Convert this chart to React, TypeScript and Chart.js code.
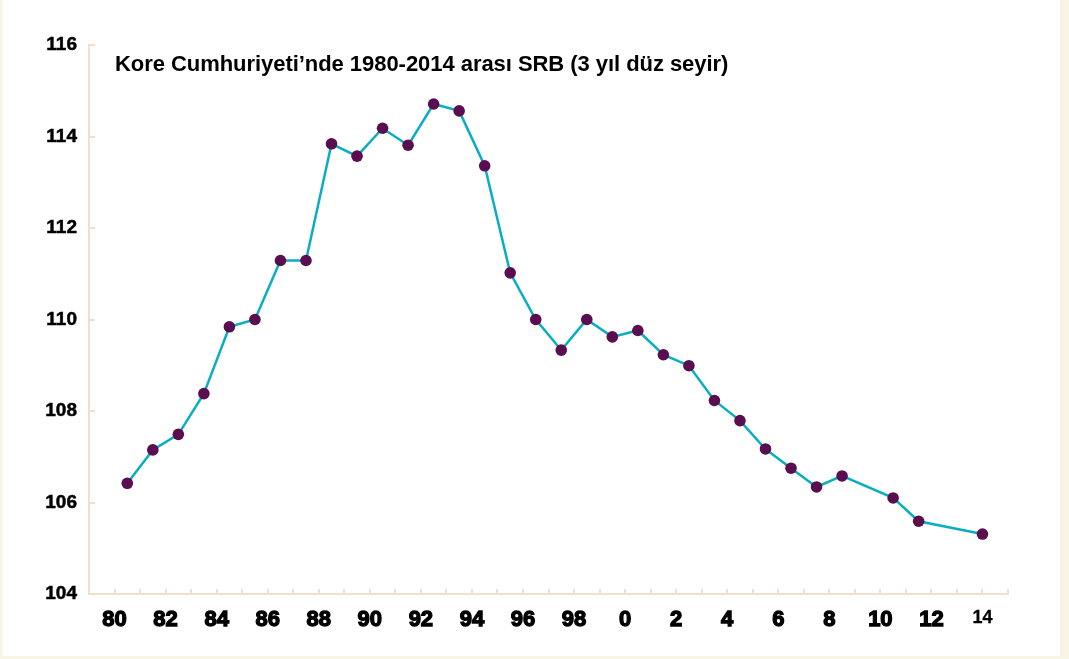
import React, { useEffect, useRef } from "react";
import { Chart, registerables } from "chart.js";

Chart.register(...registerables);

const TITLE = "Kore Cumhuriyeti’nde 1980-2014 arası SRB (3 yıl düz seyir)";

// plotting position of each 3-year smoothed value (axis units: years)
const xPositions = [
  1980.5, 1981.5, 1982.5, 1983.5, 1984.5, 1985.5, 1986.5, 1987.5, 1988.5, 1989.5,
  1990.5, 1991.5, 1992.5, 1993.5, 1994.5, 1995.5, 1996.5, 1997.5, 1998.5, 1999.5,
  2000.5, 2001.5, 2002.5, 2003.5, 2004.5, 2005.5, 2006.5, 2007.5, 2008.5, 2010.5,
  2011.5, 2014,
];

// sex ratio at birth (boys per 100 girls)
const srbValues = [
  106.42, 107.15, 107.49, 108.38, 109.84, 110.0, 111.29, 111.29, 113.84, 113.57,
  114.18, 113.81, 114.71, 114.56, 113.36, 111.02, 110.0, 109.33, 110.0, 109.62,
  109.76, 109.23, 108.99, 108.23, 107.79, 107.17, 106.75, 106.34, 106.58, 106.1,
  105.59, 105.31,
];

const xLabelYears = [
  1980, 1982, 1984, 1986, 1988, 1990, 1992, 1994, 1996, 1998, 2000, 2002, 2004,
  2006, 2008, 2010, 2012, 2014,
];
const smallLabelYears = [2014];

const yMin = 104;
const yMax = 116;
const yStep = 2;
const xMin = 1979;
const xMax = 2015;

const AXIS_COLOR = "#F1DFCB";
const LINE_COLOR = "#0AAEC3";
const POINT_COLOR = "#5A0E50";
const FONT = "'Liberation Sans', Arial, Helvetica, sans-serif";

const innerTicks = {
  id: "innerTicks",
  beforeDatasetsDraw(chart: any) {
    const { ctx, chartArea, scales } = chart;
    const x = scales.x;
    const y = scales.y;
    ctx.save();
    ctx.strokeStyle = AXIS_COLOR;
    ctx.lineWidth = 2;
    ctx.beginPath();
    x.ticks.forEach((t: any) => {
      if (t.value === x.min) return;
      const px = Math.round(x.getPixelForValue(t.value));
      ctx.moveTo(px, chartArea.bottom);
      ctx.lineTo(px, chartArea.bottom - 5);
    });
    y.ticks.forEach((t: any) => {
      if (t.value === y.min) return;
      const py = Math.round(y.getPixelForValue(t.value));
      ctx.moveTo(chartArea.left, py);
      ctx.lineTo(chartArea.left + 6, py);
    });
    ctx.stroke();
    ctx.restore();
  },
};

export default function App() {
  const canvasRef = useRef<HTMLCanvasElement | null>(null);

  useEffect(() => {
    if (!canvasRef.current) return;
    const data = xPositions.map((x, i) => ({ x, y: srbValues[i] }));
    const chart = new Chart(canvasRef.current, {
      type: "line",
      data: {
        datasets: [
          {
            data,
            borderColor: LINE_COLOR,
            borderWidth: 2.5,
            pointBackgroundColor: POINT_COLOR,
            pointBorderColor: POINT_COLOR,
            pointBorderWidth: 0,
            pointRadius: 5.8,
            tension: 0,
          },
        ],
      },
      options: {
        animation: false,
        responsive: false,
        devicePixelRatio: 1,
        layout: { padding: { left: 0, top: 45, right: 61, bottom: 0 } },
        plugins: {
          legend: { display: false },
          tooltip: { enabled: false },
          title: { display: false },
        },
        scales: {
          x: {
            type: "linear",
            min: xMin,
            max: xMax,
            grid: { display: false, drawTicks: false },
            border: { display: true, color: AXIS_COLOR, width: 2 },
            afterFit: (scale: any) => {
              scale.height = 65;
            },
            ticks: {
              stepSize: 1,
              autoSkip: false,
              maxRotation: 0,
              minRotation: 0,
              padding: 13,
              color: "#000",
              font: (ctx: any) => {
                const v = ctx.tick ? ctx.tick.value : 0;
                return smallLabelYears.includes(v)
                  ? { family: FONT, size: 18, weight: "bold" }
                  : { family: FONT, size: 22, weight: "bold" };
              },
              textStrokeColor: "#000",
              textStrokeWidth: (ctx: any) => {
                const v = ctx.tick ? ctx.tick.value : 0;
                return smallLabelYears.includes(v) ? 0.3 : 1.3;
              },
              callback: (value: any) => {
                const v = Number(value);
                return xLabelYears.includes(v) ? String(v % 100) : "";
              },
            },
          },
          y: {
            type: "linear",
            min: yMin,
            max: yMax,
            grid: { display: false, drawTicks: false },
            border: { display: true, color: AXIS_COLOR, width: 2 },
            afterFit: (scale: any) => {
              scale.width = 89;
            },
            ticks: {
              stepSize: yStep,
              padding: 12,
              color: "#000",
              font: { family: FONT, size: 19, weight: "bold" },
              textStrokeColor: "#000",
              textStrokeWidth: 0.5,
            },
          },
        },
      },
      plugins: [innerTicks],
    });
    return () => chart.destroy();
  }, []);

  return (
    <div
      style={{
        position: "fixed",
        left: 0,
        top: 0,
        width: 1069,
        height: 659,
        background: "#F8F4E6",
        overflow: "hidden",
      }}
    >
      <div
        style={{
          position: "absolute",
          left: 3,
          top: 0,
          width: 1057,
          height: 656,
          background: "#FFFFFF",
        }}
      />
      <canvas
        ref={canvasRef}
        width={1069}
        height={659}
        style={{ position: "absolute", left: 0, top: 0, width: 1069, height: 659 }}
      />
      <div
        style={{
          position: "absolute",
          left: 115,
          top: 53,
          fontFamily: FONT,
          fontWeight: "bold",
          fontSize: 22,
          letterSpacing: "-0.05px",
          lineHeight: "22px",
          color: "#000",
          whiteSpace: "nowrap",
        }}
      >
        {TITLE}
      </div>
    </div>
  );
}
